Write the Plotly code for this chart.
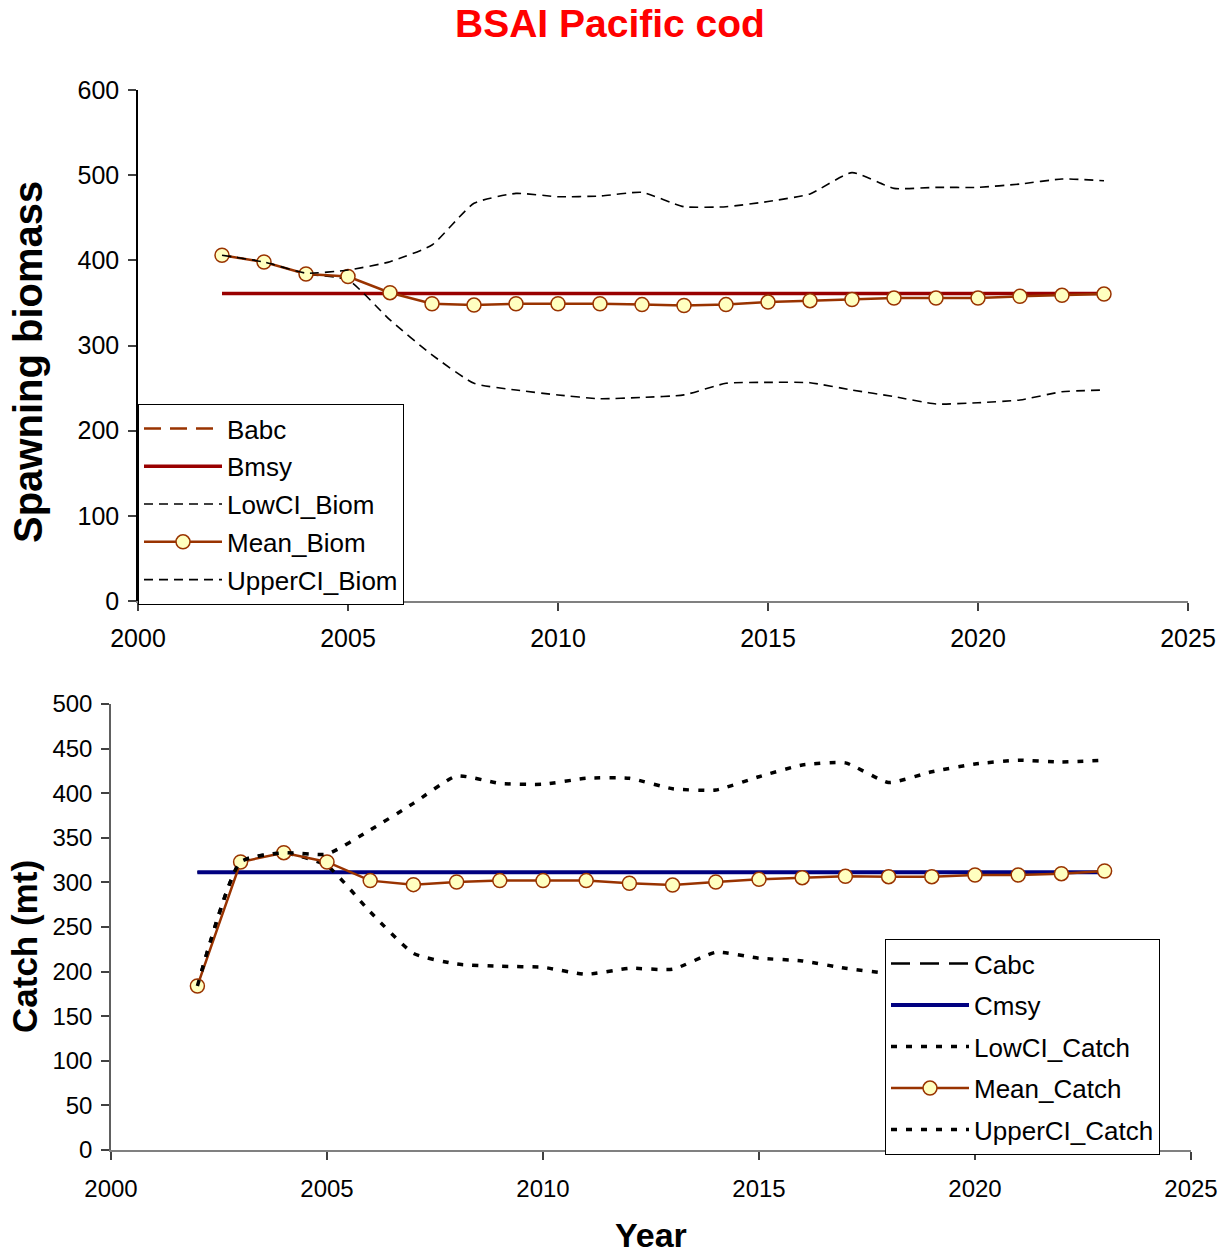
import plotly.graph_objects as go

# ---- data ----
years = list(range(2002, 2024))

babc = [361] * len(years)
bmsy = [361] * len(years)
mean_biom = [406, 398, 384, 381, 362, 349, 347.5, 349, 349, 349, 348, 347,
             348, 351, 352.6, 354, 355.7, 355.7, 355.7, 357.7, 358.9, 360.4]
low_biom = [406, 398, 384, 377, 330, 289, 255.6, 247.7, 241.9, 237.5, 239, 242,
            255.6, 256.7, 256.3, 247.7, 240, 231.3, 232.8, 236, 245.7, 247.7]
upper_biom = [406, 398, 385, 388.6, 398.4, 418, 467, 478.6, 474.7, 475.5, 479.8, 463,
              463, 469, 478, 503, 484.5, 485.7, 485.7, 489.6, 495.5, 493.5]

cabc = [311.5] * len(years)
cmsy = [311.5] * len(years)
mean_catch = [183.9, 322.9, 333.3, 322.9, 302, 297.5, 300.4, 302, 302, 302, 299, 297,
              300.4, 303.4, 305.3, 306.8, 306.4, 306.4, 308.3, 308.3, 309.8, 312.8]
low_catch = [183.9, 322.9, 333, 318.7, 267, 220.5, 208.5, 206, 204.8, 197, 203.7, 202.6,
             221.6, 215, 212, 203.7, 198, 194, 196, 198, 200, 203]
upper_catch = [183.9, 322.9, 333.3, 331.8, 358.7, 388.6, 419.3, 411, 410, 416.7, 416.7, 405,
               403.6, 418.5, 431.6, 434, 412, 424, 432.7, 437, 435, 437]

x_ticks = [2000, 2005, 2010, 2015, 2020, 2025]

# ---- figure geometry (pixels) ----
W, H = 1228, 1255
FONT = "Liberation Sans, Arial, sans-serif"
BROWN = "#993300"
DARKRED = "#990000"
NAVY = "#000080"
MARKER_FILL = "#FFFFC0"
SMOOTH = 0.5


def px_x(p):
    return p / W


def px_y(p):
    return 1 - p / H


fig = go.Figure()

# ---- spawning biomass panel ----
fig.add_trace(go.Scatter(x=years, y=babc, name="Babc", mode="lines",
                         line=dict(color=BROWN, width=2.5, dash="17px,9px"),
                         xaxis="x", yaxis="y", legend="legend", legendgroup="a"))
fig.add_trace(go.Scatter(x=years, y=bmsy, name="Bmsy", mode="lines",
                         line=dict(color=DARKRED, width=3.5),
                         xaxis="x", yaxis="y", legend="legend", legendgroup="b"))
fig.add_trace(go.Scatter(x=years, y=low_biom, name="LowCI_Biom", mode="lines",
                         line=dict(color="black", width=1.6, dash="9px,6px",
                                   shape="spline", smoothing=SMOOTH),
                         xaxis="x", yaxis="y", legend="legend", legendgroup="c"))
fig.add_trace(go.Scatter(x=years, y=mean_biom, name="Mean_Biom", mode="lines+markers",
                         line=dict(color=BROWN, width=2.5),
                         marker=dict(symbol="circle", size=14, color=MARKER_FILL,
                                     line=dict(color=BROWN, width=1.5)),
                         xaxis="x", yaxis="y", legend="legend", legendgroup="d"))
fig.add_trace(go.Scatter(x=years, y=upper_biom, name="UpperCI_Biom", mode="lines",
                         line=dict(color="black", width=1.6, dash="9px,6px",
                                   shape="spline", smoothing=SMOOTH),
                         xaxis="x", yaxis="y", legend="legend", legendgroup="e"))

# ---- catch panel ----
fig.add_trace(go.Scatter(x=years, y=cabc, name="Cabc", mode="lines",
                         line=dict(color="black", width=2.5, dash="19px,10px"),
                         xaxis="x2", yaxis="y2", legend="legend2", legendgroup="f"))
fig.add_trace(go.Scatter(x=years, y=cmsy, name="Cmsy", mode="lines",
                         line=dict(color=NAVY, width=4),
                         xaxis="x2", yaxis="y2", legend="legend2", legendgroup="g"))
fig.add_trace(go.Scatter(x=years, y=low_catch, name="LowCI_Catch", mode="lines",
                         line=dict(color="black", width=3.5, dash="6px,9px",
                                   shape="spline", smoothing=SMOOTH),
                         xaxis="x2", yaxis="y2", legend="legend2", legendgroup="h"))
fig.add_trace(go.Scatter(x=years, y=mean_catch, name="Mean_Catch", mode="lines+markers",
                         line=dict(color=BROWN, width=2.5),
                         marker=dict(symbol="circle", size=14, color=MARKER_FILL,
                                     line=dict(color=BROWN, width=1.5)),
                         xaxis="x2", yaxis="y2", legend="legend2", legendgroup="i"))
fig.add_trace(go.Scatter(x=years, y=upper_catch, name="UpperCI_Catch", mode="lines",
                         line=dict(color="black", width=3.5, dash="6px,9px",
                                   shape="spline", smoothing=SMOOTH),
                         xaxis="x2", yaxis="y2", legend="legend2", legendgroup="j"))

axis_common = dict(showgrid=False, zeroline=False, ticks="outside", ticklen=8,
                   tickwidth=1.5, showline=True, mirror=False, automargin=False)

fig.update_layout(
    width=W, height=H,
    margin=dict(l=0, r=0, t=0, b=0, autoexpand=False),
    paper_bgcolor="white", plot_bgcolor="white",
    font=dict(family=FONT, color="black"),
    xaxis=dict(domain=[px_x(138), px_x(1188)], range=[2000, 2025], tickvals=x_ticks,
               anchor="y", linecolor="#808080", linewidth=2, tickcolor="#404040",
               tickfont=dict(size=25), ticklabelstandoff=6, **axis_common),
    yaxis=dict(domain=[px_y(601), px_y(90)], range=[0, 600], dtick=100,
               anchor="x", linecolor="black", linewidth=1.5, tickcolor="#404040",
               tickfont=dict(size=25), ticklabelstandoff=4, **axis_common),
    xaxis2=dict(domain=[px_x(111), px_x(1191)], range=[2000, 2025], tickvals=x_ticks,
                anchor="y2", linecolor="#808080", linewidth=2, tickcolor="#404040",
                tickfont=dict(size=24), ticklabelstandoff=8, **axis_common),
    yaxis2=dict(domain=[px_y(1150), px_y(704)], range=[0, 500], dtick=50,
                anchor="x2", linecolor="#606060", linewidth=1.5, tickcolor="#404040",
                tickfont=dict(size=24), ticklabelstandoff=4, **axis_common),
    legend=dict(x=px_x(138), y=px_y(605), xanchor="left", yanchor="bottom",
                bgcolor="white", bordercolor="black", borderwidth=1,
                font=dict(size=26), itemwidth=78, traceorder="grouped",
                tracegroupgap=1),
    legend2=dict(x=px_x(885), y=px_y(1155), xanchor="left", yanchor="bottom",
                 bgcolor="white", bordercolor="black", borderwidth=1,
                 font=dict(size=26), itemwidth=78, traceorder="grouped",
                 tracegroupgap=4.75),
    annotations=[
        dict(text="<b>BSAI Pacific cod</b>", x=px_x(610), y=px_y(24), xref="paper",
             yref="paper", xanchor="center", yanchor="middle", showarrow=False,
             font=dict(size=39, color="#FF0000")),
        dict(text="<b>Spawning biomass</b>", x=px_x(28), y=px_y(362), xref="paper",
             yref="paper", xanchor="center", yanchor="middle", showarrow=False,
             textangle=-90, font=dict(size=40)),
        dict(text="<b>Catch (mt)</b>", x=px_x(24), y=px_y(947), xref="paper",
             yref="paper", xanchor="center", yanchor="middle", showarrow=False,
             textangle=-90, font=dict(size=35)),
        dict(text="<b>Year</b>", x=px_x(651), y=px_y(1235), xref="paper",
             yref="paper", xanchor="center", yanchor="middle", showarrow=False,
             font=dict(size=34)),
    ],
)

fig.write_html("out.html")
